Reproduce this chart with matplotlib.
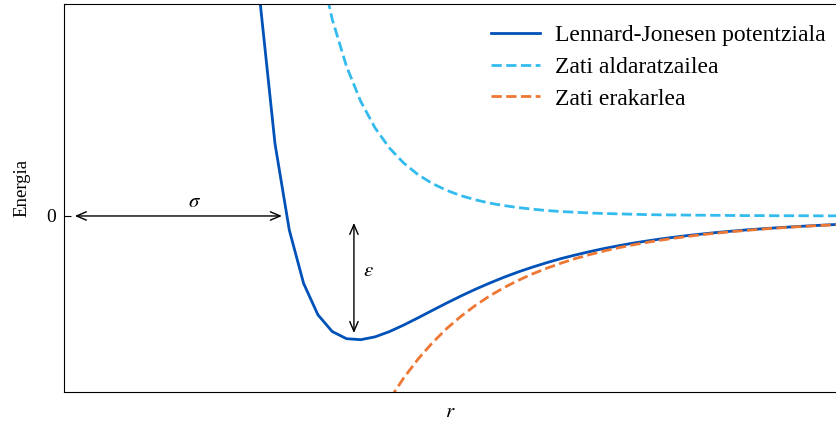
import matplotlib
matplotlib.use("Agg")
import matplotlib.pyplot as plt

plt.rcParams['font.family'] = ['Liberation Serif', 'DejaVu Serif']
plt.rcParams['mathtext.fontset'] = 'stix'

# distantzia (r/sigma) eta energia balioak (epsilon unitatetan), iruditik irakurrita
r = [0.930, 0.955, 0.980, 1.005, 1.030, 1.055, 1.080, 1.105, 1.130, 1.155,
     1.180, 1.205, 1.230, 1.255, 1.280, 1.305, 1.330, 1.355, 1.380, 1.405,
     1.430, 1.455, 1.480, 1.505, 1.530, 1.555, 1.580, 1.605, 1.630, 1.655,
     1.680, 1.705, 1.730, 1.755, 1.780, 1.805, 1.830, 1.855, 1.880, 1.905,
     1.930, 1.955, 1.980]
lj = [3.373, 1.678, 0.582, -0.114, -0.544, -0.797, -0.932, -0.990, -0.998, -0.975,
      -0.933, -0.880, -0.822, -0.762, -0.703, -0.646, -0.592, -0.542, -0.495, -0.452,
      -0.413, -0.377, -0.344, -0.315, -0.288, -0.263, -0.241, -0.220, -0.202, -0.185,
      -0.170, -0.156, -0.144, -0.132, -0.122, -0.112, -0.104, -0.096, -0.089, -0.082,
      -0.076, -0.070, -0.065]
aldaratzailea = [9.556, 6.951, 5.098, 3.768, 2.806, 2.104, 1.588, 1.207, 0.923, 0.710,
                 0.549, 0.427, 0.334, 0.262, 0.207, 0.164, 0.131, 0.104, 0.084, 0.068,
                 0.055, 0.044, 0.036, 0.030, 0.024, 0.020, 0.017, 0.014, 0.011, 0.009,
                 0.008, 0.007, 0.006, 0.005, 0.004, 0.003, 0.003, 0.002, 0.002, 0.002,
                 0.001, 0.001, 0.001]
erakarlea = [-6.182, -5.273, -4.516, -3.882, -3.350, -2.901, -2.521, -2.197, -1.921, -1.685,
             -1.482, -1.307, -1.155, -1.024, -0.909, -0.810, -0.723, -0.646, -0.579, -0.520,
             -0.468, -0.422, -0.381, -0.344, -0.312, -0.283, -0.257, -0.234, -0.213, -0.195,
             -0.178, -0.163, -0.149, -0.137, -0.126, -0.116, -0.107, -0.098, -0.091, -0.084,
             -0.077, -0.072, -0.066]
etiketak = ['Lennard-Jonesen potentziala', 'Zati aldaratzailea', 'Zati erakarlea']

fig = plt.figure(figsize=(8.36, 4.23), dpi=100)
ax = fig.add_axes([64/836, 31/423, 1 - 64/836, 388/423])

ax.plot(r, lj, color='#0052b8', lw=2, label=etiketak[0])
ax.plot(r, aldaratzailea, color='#33bbee', lw=2, ls='--', label=etiketak[1])
ax.plot(r, erakarlea, color='#ee7733', lw=2, ls='--', label=etiketak[2])

ax.set_xlim(0.611, 1.961)
ax.set_ylim(-1.42, 1.71)

# sigma eta epsilon geziak
ax.annotate('', xy=(0.992, 0), xytext=(0.630, 0),
            arrowprops=dict(arrowstyle='<->,head_length=0.7,head_width=0.3',
                            color='black', lw=1, shrinkA=0, shrinkB=0))
ax.text(0.84, 0.035, r'$\sigma$', fontsize=15, ha='center', va='bottom')
ax.annotate('', xy=(1.118, -0.944), xytext=(1.118, -0.056),
            arrowprops=dict(arrowstyle='<->,head_length=0.7,head_width=0.3',
                            color='black', lw=1, shrinkA=0, shrinkB=0))
ax.text(1.133, -0.45, r'$\varepsilon$', fontsize=15, ha='left', va='center')

ax.set_xticks([])
ax.set_yticks([0])
ax.tick_params(axis='y', direction='in', length=5, labelsize=14, pad=6)
ax.spines['right'].set_visible(False)

ax.set_xlabel('$r$', fontsize=15, labelpad=8)
ax.set_ylabel('Energia', fontsize=13.5)
ax.yaxis.set_label_coords(-0.043, 0.527)

ax.legend(loc='upper right', bbox_to_anchor=(1.003, 0.98), frameon=False,
          fontsize=17, handlelength=2.05, handletextpad=0.63,
          borderaxespad=0.15, labelspacing=0.43)

fig.savefig('out.png', dpi=100)
